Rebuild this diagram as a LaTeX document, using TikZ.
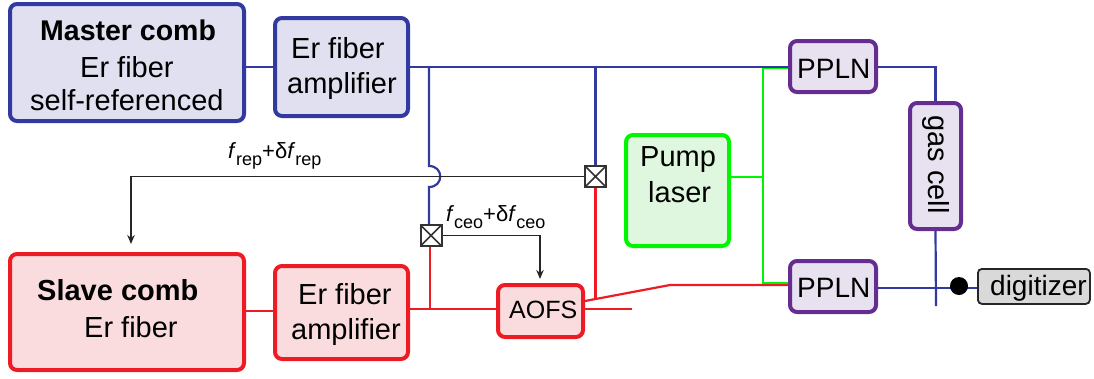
\documentclass[tikz,border=0pt]{standalone}
\usepackage{fontspec}
\setmainfont{Liberation Sans}
\usetikzlibrary{arrows.meta}
\definecolor{cblue}{RGB}{50,58,160}
\definecolor{cred}{RGB}{237,28,36}
\definecolor{cgreen}{RGB}{0,245,0}
\definecolor{cpurple}{RGB}{102,45,145}
\definecolor{fblue}{RGB}{224,224,240}
\definecolor{fred}{RGB}{250,220,222}
\definecolor{fgreen}{RGB}{222,247,222}
\definecolor{fpurple}{RGB}{232,226,240}
\definecolor{fgray}{RGB}{217,217,217}
\newcommand{\subtxt}[1]{\raisebox{-7pt}{\fontsize{18}{18}\selectfont #1}}
\tikzset{
 x=1pt,y=-1pt,
 sz/.style 2 args={minimum width=#1pt-4pt,minimum height=#2pt-4pt},
 boxb/.style={draw,rounded corners=7pt,line width=4pt,inner sep=0pt,anchor=north west},
 bluebox/.style={boxb,draw=cblue,fill=fblue},
 redbox/.style={boxb,draw=cred,fill=fred},
 greenbox/.style={boxb,draw=cgreen,fill=fgreen},
 purplebox/.style={boxb,draw=cpurple,fill=fpurple},
 mixerbox/.style={draw=black!80,fill=white,line width=2pt,minimum size=21pt,inner sep=0pt,
   path picture={\draw[black!80,line width=1.5pt] (path picture bounding box.north west)--(path picture bounding box.south east) (path picture bounding box.north east)--(path picture bounding box.south west);}},
 graybox/.style={draw=black!85,fill=fgray,rounded corners=4pt,line width=1.8pt,inner sep=0pt,anchor=north west},
 txt/.style={font=\fontsize{29}{33}\selectfont,inner sep=0pt,anchor=base west},
 bl/.style={cblue,line width=2.2pt},
 rd/.style={cred,line width=2.2pt},
 gr/.style={cgreen,line width=2.2pt},
 bk/.style={black!85,line width=1.8pt},
 arr/.style={bk,-{Stealth[length=9pt,width=7.5pt]}},
 lab/.style={font=\fontsize{22}{26}\selectfont,inner sep=0pt,anchor=base west},
}
\begin{document}
\begin{tikzpicture}
\useasboundingbox (0,0) rectangle (1094,378);
\node[bluebox,sz={238}{121}] (master) at (8,2) {};
\node[bluebox,sz={137}{102}] (amp1) at (273,16) {};
\node[purplebox,sz={90}{55}] (ppln1) at (788,39) {};
\node[purplebox,sz={90}{55}] (ppln2) at (788,259) {};
\node[purplebox,sz={55}{130}] (gas) at (908,101) {};
\node[graybox,sz={116}{39}] (dig) at (977,268) {};
\node[greenbox,sz={107}{115}] (pump) at (624,133) {};
\node[redbox,sz={238}{120}] (slave) at (8,252) {};
\node[redbox,sz={137}{97}] (amp2) at (273,264) {};
\node[redbox,sz={89}{56}] (aofs) at (496,283) {};
\node[mixerbox] (mixa) at (595.5,176.5) {};
\node[mixerbox] (mixb) at (431,235.5) {};
\node[txt,font=\fontsize{28.5}{33}\bfseries\selectfont] (t1) at (40,40) {Master comb};
\node[txt] (t2) at (80,77) {Er fiber};
\node[txt] (t3) at (30,110) {self-referenced};
\node[txt] (t4) at (291,58) {Er fiber};
\node[txt] (t5) at (287,93) {amplifier};
\node[txt,font=\fontsize{28}{33}\selectfont] (t6) at (797,78) {PPLN};
\node[txt,font=\fontsize{28}{33}\selectfont] (t7) at (797,297) {PPLN};
\node[txt,rotate=-90,anchor=base] (t8) at (928,164.5) {gas cell};
\node[txt,font=\fontsize{28}{33}\selectfont] (t9) at (990,295) {digitizer};
\node[txt] (t10) at (640,166) {Pump};
\node[txt] (t11) at (648,202) {laser};
\node[txt,font=\fontsize{29}{33}\bfseries\selectfont] (t12) at (37,300) {Slave comb};
\node[txt] (t13) at (84,337) {Er fiber};
\node[txt] (t14) at (298,304) {Er fiber};
\node[txt] (t15) at (291,339) {amplifier};
\node[txt,font=\fontsize{25}{30}\selectfont] (t16) at (509,318) {AOFS};
\node[lab] (lrep) at (228,158) {\textit{f}\subtxt{rep}+δ\textit{f}\subtxt{rep}};
\node[lab] (lceo) at (446,221) {\textit{f}\subtxt{ceo}+δ\textit{f}\subtxt{ceo}};
\coordinate (jb) at (429,67);
\coordinate (jc) at (595.5,67);
\coordinate (hopa) at (429,166);
\coordinate (hopb) at (429,187);
\coordinate (jr) at (430,309);
\coordinate (sr) at (0,311);
\coordinate (rfree) at (632,309);
\coordinate (rbend) at (670,285);
\coordinate (rsplit) at (595.5,298);
\coordinate (aofsr) at (585,301);
\coordinate (gt) at (763,68);
\coordinate (gm) at (763,177);
\coordinate (gb) at (763,283);
\coordinate (cellend) at (936,306);
\coordinate (cross) at (936,288);
\coordinate (fbk) at (131,176.5);
\coordinate (sl) at (131,244);
\coordinate (fbkb) at (540,235.5);
\coordinate (ao) at (540,279);
\draw[bl] (master.east |- jb) -- (amp1.west |- jb);
\draw[rd] (slave.east |- sr) -- (amp2.west |- sr);
\draw[rd] (amp2.east |- jr) -- (aofs.west |- jr);
\draw[rd] (aofs.east |- jr) -- (rfree);
\draw[rd] (jr) -- (mixb.south -| jr);
\draw[rd] (mixa.south) -- (rsplit);
\draw[rd] (aofsr) -- (rbend) -- (ppln2.west |- rbend);
\draw[gr] (ppln1.west |- gt) -- (gt) -- (gb) -- (ppln2.west |- gb);
\draw[gr] (pump.east |- gm) -- (gm);
\draw[bl] (amp1.east |- jb) -- (ppln1.west |- jb);
\draw[bl] (jc) -- (mixa.north);
\draw[bl] (jb) -- (hopa) .. controls (444,166) and (444,187) .. (hopb) -- (mixb.north -| hopb);
\draw[bl] (ppln1.east |- jb) -- (jb -| gas.north) -- (gas.north);
\draw[bl] (gas.south) -- (cellend);
\draw[bl] (ppln2.east |- cross) -- (dig.west |- cross);
\fill[black] (959,286) circle[radius=9pt];
\draw[arr] (mixa.west) -- (fbk) -- (sl);
\draw[arr] (mixb.east) -- (fbkb) -- (ao);
\end{tikzpicture}
\end{document}
